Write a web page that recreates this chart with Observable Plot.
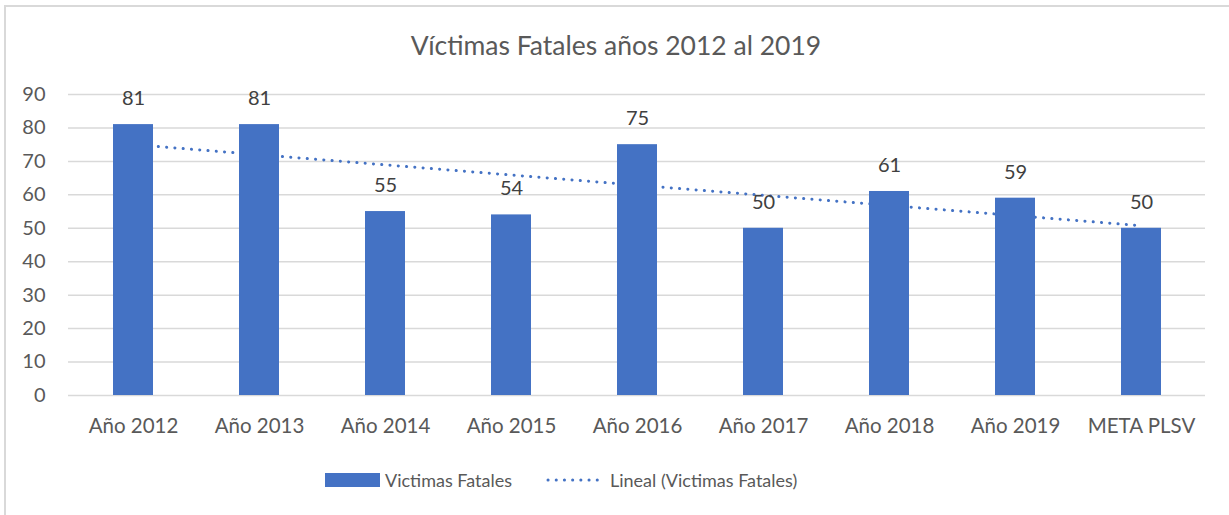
<!DOCTYPE html>
<html>
<head>
<meta charset="utf-8">
<script src="https://cdn.jsdelivr.net/npm/d3@7"></script>
<script src="https://cdn.jsdelivr.net/npm/@observablehq/plot@0.6"></script>
<style>
  html, body { margin: 0; padding: 0; background: #fff; }
  #wrap { position: relative; width: 1229px; height: 515px; overflow: hidden; font-family: Lato, "Open Sans", sans-serif; }
  #frame { position: absolute; left: 4px; top: 5px; width: 1240px; height: 530px; border: 2px solid #D9D9D9; box-sizing: border-box; }
  #title { position: absolute; left: 0; width: 1232px; top: 28px; text-align: center; font-size: 26.5px; color: #595959; line-height: 34px; }
  #chart { position: absolute; left: 0; top: 60px; }
  #legend { position: absolute; top: 467px; left: 0; height: 26px; font-size: 18px; color: #595959; }
  .sw { position: absolute; top: 6px; width: 55px; height: 14px; background: #4472C4; }
  .lt { position: absolute; top: 0; line-height: 26px; white-space: nowrap; }
</style>
</head>
<body>
<div id="wrap">
  <div id="frame"></div>
  <div id="title">Víctimas Fatales años 2012 al 2019</div>
  <div id="chart"></div>
  <div id="legend">
    <div class="sw" style="left:325px"></div>
    <div class="lt" style="left:385px">Victimas Fatales</div>
    <svg style="position:absolute;left:545px;top:0" width="62" height="26"><line x1="3" y1="13" x2="60" y2="13" stroke="#4472C4" stroke-width="3" stroke-linecap="round" stroke-dasharray="0.1 8.1"/></svg>
    <div class="lt" style="left:610px">Lineal (Victimas Fatales)</div>
  </div>
</div>
<script>
const categories = ["Año 2012", "Año 2013", "Año 2014", "Año 2015", "Año 2016", "Año 2017", "Año 2018", "Año 2019", "META PLSV"];
const values = [81, 81, 55, 54, 75, 50, 61, 59, 50];
const yTicks = [0, 10, 20, 30, 40, 50, 60, 70, 80, 90];

const data = categories.map((c, i) => ({cat: c, value: values[i], idx: i + 1}));

// Linear trendline (least squares over category index), as in Excel "Lineal"
const mx = d3.mean(data, d => d.idx), my = d3.mean(data, d => d.value);
const slope = d3.sum(data, d => (d.idx - mx) * (d.value - my)) / d3.sum(data, d => (d.idx - mx) ** 2);
const trend = data.map(d => ({cat: d.cat, value: my + slope * (d.idx - mx)}));

const chart = Plot.plot({
  width: 1229,
  height: 400,
  marginTop: 34,
  marginBottom: 65,
  marginLeft: 68,
  marginRight: 24,
  style: {fontFamily: "Lato, 'Open Sans', sans-serif", fontSize: "19.5px", color: "#595959", background: "transparent"},
  x: {domain: categories, paddingInner: 0.683, paddingOuter: 0.342, label: null},
  y: {domain: [0, 90], label: null},
  marks: [
    Plot.ruleY(yTicks, {stroke: "#D9D9D9", strokeWidth: 1.5}),
    Plot.line(trend, {x: "cat", y: "value", stroke: "#4472C4", strokeWidth: 3, strokeLinecap: "round", strokeDasharray: "0.1 8.2"}),
    Plot.barY(data, {x: "cat", y: "value", fill: "#4472C4"}),
    Plot.text(data, {x: "cat", y: "value", text: d => String(d.value), dy: -26, fill: "#404040", fontSize: 20}),
    Plot.axisX({tickSize: 0, tickPadding: 23, fontSize: 20.5, fill: "#595959"}),
    Plot.axisY({ticks: yTicks, tickSize: 0, tickPadding: 23, fontSize: 20, fill: "#595959"})
  ]
});
document.getElementById("chart").appendChild(chart);
</script>
</body>
</html>
